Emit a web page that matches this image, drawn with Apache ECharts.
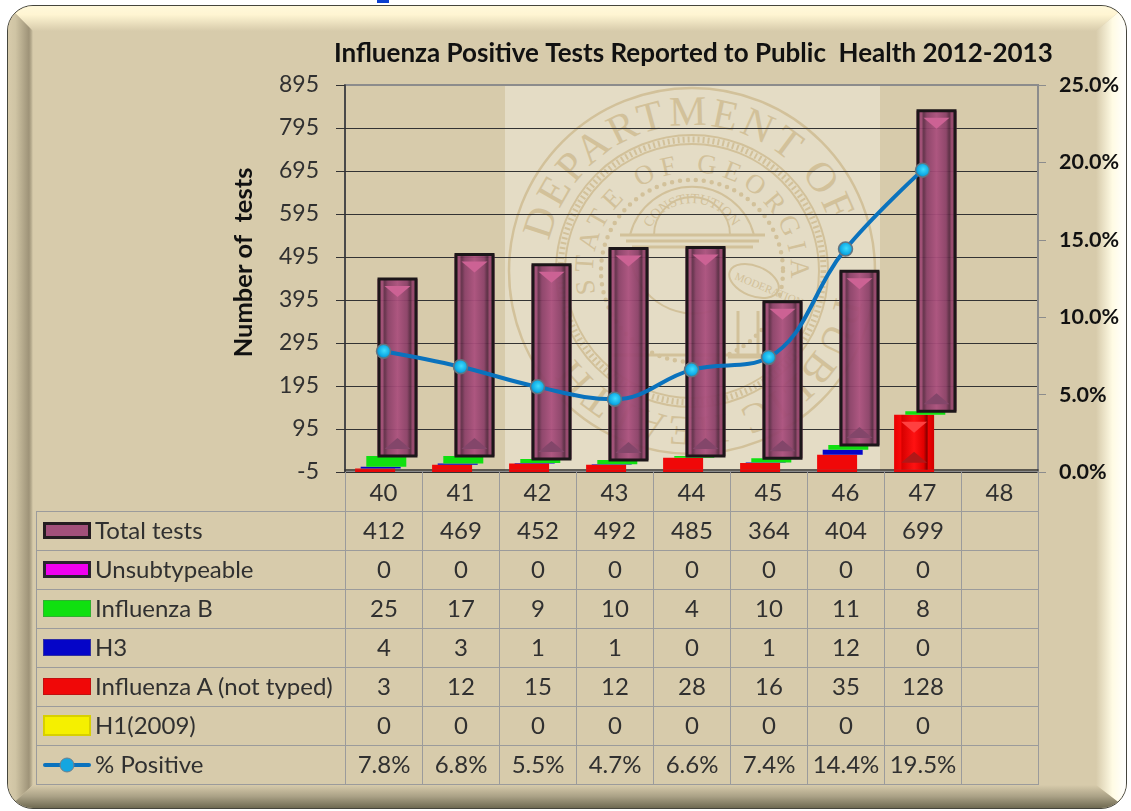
<!DOCTYPE html>
<html>
<head>
<meta charset="utf-8">
<title>Influenza Positive Tests</title>
<script src="https://cdn.jsdelivr.net/npm/echarts@6/dist/echarts.min.js"></script>
<style>
html, body { margin: 0; padding: 0; background: #fff; }
#page { position: relative; width: 1131px; height: 811px; overflow: hidden; font-family: Lato, sans-serif; }
#link { position: absolute; left: 377px; top: 0; width: 12px; height: 3px; background: #0b3fd0; }
#frame {
  position: absolute; left: 7px; top: 5px; width: 1118px; height: 802px; overflow: hidden;
  border: 1.5px solid #45453c; border-radius: 26px; background: #d7cbab;
}
.edge { position: absolute; }
#edgeTop { left: 0; right: 0; top: 0; height: 25px; background: linear-gradient(to bottom, #fff8da 0, #fff5d2 35%, #d7cbab 100%); clip-path: polygon(0 0, 100% 0, calc(100% - 30px) 100%, 25px 100%); }
#edgeLeft { left: 0; top: 0; bottom: 0; width: 25px; background: linear-gradient(to right, #d7cbab 0, #cfc4a4 30%, #9e9378 84%, #b8ad90 93%, #d7cbab 100%); clip-path: polygon(0 0, 100% 25px, 100% calc(100% - 23px), 0 100%); }
#edgeRight { right: 0; top: 0; bottom: 0; width: 30px; background: linear-gradient(to right, #d7cbab 0, #fffbe4 55%, #ffffff 100%); clip-path: polygon(100% 0, 100% 100%, 0 calc(100% - 23px), 0 25px); }
#edgeBottom { left: 0; right: 0; bottom: 0; height: 23px; background: linear-gradient(to bottom, #d7cbab 0, #aaa186 50%, #6f6a52 100%); clip-path: polygon(0 100%, 25px 0, calc(100% - 30px) 0, 100% 100%); }
#seal { position: absolute; left: 505px; top: 85px; width: 375px; height: 387px; background: #e4dcc5; overflow: hidden; }
#chart { position: absolute; left: 0; top: 0; width: 1131px; height: 811px; }
#table { position: absolute; left: 36px; top: 472px; border-collapse: collapse; table-layout: fixed; color: #303030; font-size: 24px; }
#table td { border: 1.5px solid #9b9b9b; padding: 0 0 3px; text-align: center; height: 34.9px; white-space: nowrap; }
#table tr.head td { height: 36.4px; border-top: none; }
#table tr.head td.blank { border: none; border-right: 1.5px solid #9b9b9b; border-bottom: 1.5px solid #9b9b9b; }
#table td.name { text-align: left; position: relative; padding-left: 58px; }
.key { position: absolute; left: 6px; top: 10px; width: 48px; height: 17px; box-sizing: border-box; }
</style>
</head>
<body>
<div id="page">
  <div id="link"></div>
  <div id="frame">
    <div class="edge" id="edgeTop"></div>
    <div class="edge" id="edgeLeft"></div>
    <div class="edge" id="edgeRight"></div>
    <div class="edge" id="edgeBottom"></div>
  </div>
  <div id="seal">
    <svg width="375" height="387" viewBox="-187 -186 375 387" fill="none" stroke="#d2c19a" font-family="Liberation Serif, serif">
      <defs>
        <path id="outerArc" d="M -142.8 -30 A 146 146 0 0 1 138.9 -45.1"></path>
        <path id="lowerArc" d="M 143.8 25.4 A 146 146 0 0 1 -119.6 83.7"></path>
        <path id="innerArc" d="M -96.5 22.3 A 99 99 0 1 1 98.5 10.3"></path>
        <path id="archArc" d="M -41.5 -43 A 47 47 0 0 1 41.5 -43"></path>
      </defs>
      <circle r="183" stroke-width="2.5"></circle>
      <circle r="136" stroke-width="2"></circle>
      <circle r="127" stroke-width="2"></circle>
      <circle r="131.5" stroke-width="6" stroke-dasharray="2 3"></circle>
      <circle r="91" stroke-width="4.5" stroke-linecap="round" stroke-dasharray="0 8"></circle>
      <path d="M -38 -36 A 38 38 0 0 1 38 -36 M -62 -36 A 64 64 0 0 1 62 -36" stroke-width="2"></path>
      <path d="M -72 -36 H 73 M -66 -30 H 67 M -60 -24 H 61" stroke-width="3"></path>
      <path d="M -62 -20 A 64 64 0 0 0 20 40" stroke-width="2"></path>
      <path d="M 46 40 V 86 M 66 40 V 86 M 36 86 H 76 M -80 84 H 76" stroke-width="3"></path>
      <ellipse cx="62" cy="10" rx="26" ry="15" transform="rotate(22 62 10)" stroke-width="2"></ellipse>
      <g fill="#d2c19a" stroke="none">
        <text font-size="42"><textPath href="#outerArc" textLength="378" lengthAdjust="spacing">DEPARTMENT OF</textPath></text>
        <text font-size="42"><textPath href="#lowerArc" textLength="340" lengthAdjust="spacing">PUBLIC HEALTH</textPath></text>
        <text font-size="27"><textPath href="#innerArc" textLength="340" lengthAdjust="spacing">STATE OF GEORGIA</textPath></text>
        <text font-size="14"><textPath href="#archArc" textLength="100" lengthAdjust="spacing">CONSTITUTION</textPath></text>
        <text font-size="11" transform="translate(42 8) rotate(22)">MODERATION</text>
      </g>
    </svg>
  </div>
  <div id="chart"></div>
  <table id="table"></table>
</div>

<script>
const weeks = ['40', '41', '42', '43', '44', '45', '46', '47', '48']
const totalTests = [412, 469, 452, 492, 485, 364, 404, 699, null]
const unsubtypeable = [0, 0, 0, 0, 0, 0, 0, 0, null]
const influenzaB = [25, 17, 9, 10, 4, 10, 11, 8, null]
const h3 = [4, 3, 1, 1, 0, 1, 12, 0, null]
const influenzaA = [3, 12, 15, 12, 28, 16, 35, 128, null]
const h1 = [0, 0, 0, 0, 0, 0, 0, 0, null]
const percentPositive = [7.8, 6.8, 5.5, 4.7, 6.6, 7.4, 14.4, 19.5, null]

const AXIS_MIN = -5
const BAR_WIDTH = 40
const BAR_STEP = 5.6
const slotX = (slot) => (slot - 2.5) * BAR_STEP

// excel stacks these but still spreads the columns sideways, so each slot gets its own hidden base
const sumOf = (...lists) => weeks.map((_, i) => (lists[0][i] === null ? null : lists.reduce((s, l) => s + l[i], 0)))
const baseH3 = sumOf(h1, influenzaA)
const baseB = sumOf(h1, influenzaA, h3)
const baseUnsub = sumOf(h1, influenzaA, h3, influenzaB)
const baseTotal = sumOf(h1, influenzaA, h3, influenzaB, unsubtypeable)

const hGrad = (stops) => new echarts.graphic.LinearGradient(0, 0, 1, 0, stops.map((c) => ({ offset: c[0], color: c[1] })))
const PLUM = hGrad([[0, '#8a3e64'], [0.12, '#a24c77'], [0.18, '#5e2c47'], [0.26, '#8a3f67'], [0.5, '#aa4f7d'], [0.74, '#8a3f67'], [0.82, '#552840'], [0.88, '#98456e'], [1, '#7a3658']])
const RED_BEVEL = hGrad([[0, '#e80000'], [0.16, '#f80808'], [0.2, '#d80000'], [0.5, '#ff1212'], [0.74, '#e00000'], [0.82, '#880000'], [0.86, '#f00000'], [1, '#d00000']])

const hiddenBase = (stack, data) => ({
  type: 'bar', stack, data, barWidth: BAR_WIDTH, barGap: '-86%', silent: true,
  itemStyle: { color: 'transparent' }
})
const visibleBar = (name, stack, data, itemStyle) => ({
  name, type: 'bar', stack, data, barWidth: BAR_WIDTH, barGap: '-86%', itemStyle
})

// pyramid bevel that excel puts on the big columns, outline too since a bar border eats into the bar
const bevel = (slot, base, values, minValue, light, dark, outline) => ({
  type: 'custom',
  silent: true,
  z: 3,
  data: values.map((v, i) => [i, base ? base[i] : 0, v]),
  encode: { x: 0, y: 1 },
  renderItem: (params, api) => {
    const v = api.value(2)
    if (!(v >= minValue)) return null
    const b = api.value(1)
    const x = api.coord([api.value(0), b])[0] + slotX(slot)
    const yBot = api.coord([api.value(0), b])[1]
    const yTop = api.coord([api.value(0), b + v])[1]
    const edge = 7
    const half = BAR_WIDTH / 2 - edge
    const children = [
      { type: 'polygon', shape: { points: [[x - half, yTop + edge], [x + half, yTop + edge], [x, yTop + edge + 11]] }, style: { fill: light } },
      { type: 'polygon', shape: { points: [[x - half, yBot - edge], [x + half, yBot - edge], [x, yBot - edge - 11]] }, style: { fill: dark } }
    ]
    if (outline) {
      children.push({ type: 'rect', shape: { x: x - BAR_WIDTH / 2 + 1.5, y: yTop, width: BAR_WIDTH - 3, height: yBot - yTop }, style: { fill: 'none', stroke: outline, lineWidth: 3 } })
    }
    return { type: 'group', children }
  }
})

// the first column of a stack starts at the axis crossing, not at zero
const footOfA = {
  type: 'custom',
  silent: true,
  z: 2,
  data: influenzaA.map((v, i) => [i, v]),
  encode: { x: 0, y: 1 },
  renderItem: (params, api) => {
    if (!(api.value(1) > 0)) return null
    const zero = api.coord([api.value(0), 0])
    const low = api.coord([api.value(0), AXIS_MIN])
    return {
      type: 'rect',
      shape: { x: zero[0] + slotX(1) - BAR_WIDTH / 2, y: zero[1], width: BAR_WIDTH, height: low[1] - zero[1] },
      style: { fill: '#e80808' }
    }
  }
}

const chart = echarts.init(document.getElementById('chart'), null, { renderer: 'canvas' })
const FONT = 'Lato, sans-serif'

chart.setOption({
  backgroundColor: 'transparent',
  animation: false,
  title: {
    text: 'Influenza Positive Tests Reported to Public  Health 2012-2013',
    left: 329, top: 36,
    textStyle: { fontFamily: FONT, fontSize: 26, fontWeight: 'bold', color: '#111' }
  },
  grid: { left: 345, top: 85, width: 693, height: 387, show: true, backgroundColor: 'transparent', borderColor: '#8c8c8c', borderWidth: 2 },
  xAxis: {
    type: 'category',
    data: weeks,
    axisLine: { lineStyle: { color: '#333', width: 1.5 } },
    axisTick: { show: false },
    axisLabel: { color: '#303030', fontFamily: FONT, fontSize: 24, margin: 9 }
  },
  yAxis: [
    {
      type: 'value',
      min: AXIS_MIN, max: 895, interval: 100,
      name: 'Number of  tests',
      nameLocation: 'middle',
      nameGap: 88,
      nameTextStyle: { fontFamily: FONT, fontSize: 25.5, fontWeight: 'bold', color: '#111', padding: [0, 0, 0, 32] },
      axisLine: { show: true, lineStyle: { color: '#333', width: 1.5 } },
      axisTick: { show: true, length: 9, lineStyle: { color: '#333' } },
      axisLabel: { color: '#303030', fontFamily: FONT, fontSize: 23, margin: 26 },
      splitLine: { show: true, showMaxLine: false, lineStyle: { color: '#333', width: 1.2 } }
    },
    {
      type: 'value',
      min: 0, max: 25, interval: 5,
      position: 'right',
      axisLine: { show: true, lineStyle: { color: '#8c8c8c', width: 2 } },
      axisTick: { show: true, length: 8, lineStyle: { color: '#8c8c8c' } },
      axisLabel: { color: '#111', fontFamily: FONT, fontSize: 21.5, fontWeight: 'bold', margin: 21, formatter: (v) => v.toFixed(1) + '%' },
      splitLine: { show: false }
    }
  ],
  series: [
    visibleBar('H1(2009)', 's0', h1, { color: '#f5f000' }),
    {
      name: 'Influenza A (not typed)',
      type: 'bar',
      barWidth: BAR_WIDTH,
      barGap: '-86%',
      data: influenzaA.map((v) => (v >= 100 ? { value: v, itemStyle: { color: RED_BEVEL } } : v)),
      itemStyle: { color: '#f00808' }
    },
    footOfA,
    hiddenBase('s2', baseH3),
    visibleBar('H3', 's2', h3, { color: '#0505c8' }),
    hiddenBase('s3', baseB),
    visibleBar('Influenza B', 's3', influenzaB, { color: '#10e010' }),
    hiddenBase('s4', baseUnsub),
    visibleBar('Unsubtypeable', 's4', unsubtypeable, { color: '#f000f0' }),
    hiddenBase('s5', baseTotal),
    visibleBar('Total tests', 's5', totalTests, { color: PLUM, opacity: 0.94 }),
    bevel(5, baseTotal, totalTests, 100, '#cc6294', '#83466a', '#1c1619'),
    bevel(1, null, influenzaA, 100, '#ff4040', '#b01818', null),
    {
      name: '% Positive',
      type: 'line',
      yAxisIndex: 1,
      z: 6,
      smooth: 0.4,
      data: percentPositive,
      symbol: 'circle',
      symbolSize: 14,
      lineStyle: { color: '#0a72bd', width: 4 },
      itemStyle: {
        color: new echarts.graphic.RadialGradient(0.55, 0.45, 0.6, [
          { offset: 0, color: '#3fdcfd' }, { offset: 0.6, color: '#10ace6' }, { offset: 1, color: '#0b6ea8' }
        ]),
        borderColor: '#66747f', borderWidth: 1.5
      }
    }
  ]
})

// data table under the plot
const tableRows = [
  ['Total tests', totalTests, 'background:#a2507a;border:3px solid #241c20'],
  ['Unsubtypeable', unsubtypeable, 'background:#f000f0;border:3px solid #2a2230'],
  ['Influenza B', influenzaB, 'background:#10e010;border:1px solid #30b030'],
  ['H3', h3, 'background:#0505c8;border:1px solid #3030a0'],
  ['Influenza A (not typed)', influenzaA, 'background:#f00808;border:1px solid #c01010'],
  ['H1(2009)', h1, 'background:#f5f000;border:2px solid #d8d000;height:21px;top:8px'],
  ['% Positive', percentPositive, 'line']
]
const keyHtml = (style) => style === 'line'
  ? '<svg class="key" style="height:20px;top:9px" viewBox="0 0 48 20"><path d="M2 10H46" stroke="#0a72bd" stroke-width="4" stroke-linecap="round"/><circle cx="24" cy="10" r="7" fill="#14a6e0" stroke="#6f7f8c"/></svg>'
  : `<div class="key" style="${style}"></div>`
const COLS = '<colgroup><col style="width:309px">' + weeks.map(() => '<col style="width:77px">').join('') + '</colgroup>'
const headRow = '<tr class="head"><td class="blank"></td>' + weeks.map(() => '<td></td>').join('') + '</tr>'
const bodyRows = tableRows.map(([name, values, style]) => {
  const cells = values.map((v) => {
    if (v === null) return '<td></td>'
    return '<td>' + (name === '% Positive' ? v.toFixed(1) + '%' : v) + '</td>'
  }).join('')
  return `<tr><td class="name">${keyHtml(style)}${name}</td>${cells}</tr>`
}).join('')
document.getElementById('table').innerHTML = COLS + headRow + bodyRows
</script>
</body>
</html>
